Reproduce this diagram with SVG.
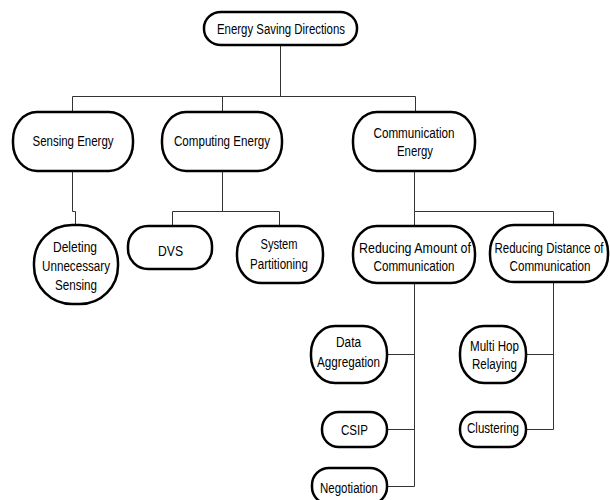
<svg xmlns="http://www.w3.org/2000/svg" width="610" height="500" viewBox="0 0 610 500">
<style>
.n{fill:#fff;stroke:#000;stroke-width:2.5}
.t{font-family:"Liberation Sans",Arial,sans-serif;font-size:14px;fill:#000;text-anchor:middle}
.c{fill:none;stroke:#333;stroke-width:1}
</style>
<rect width="610" height="500" fill="#fff"/>
<g id="connectors" class="c">
<path d="M280.5 45V96.5M72.5 96.5H415.5M72.5 96.5V112M222.5 96.5V112M415.5 96.5V112"/>
<path d="M72.5 171V211.5H75.5V225"/>
<path d="M222.5 171V211.5M172.5 211.5H279.5M172.5 211.5V226M279.5 211.5V226"/>
<path d="M414.5 171V211.5M414.5 211.5H553.5M553.5 211.5V225M414.5 211.5V226"/>
<path d="M414.5 283V486.5M387 354.5H414.5M387 429.5H414.5M387 486.5H414.5"/>
<path d="M553.5 282V429.5M526 354.5H553.5M526 429.5H553.5"/>
</g>
<g id="n-root"><rect class="n" x="204" y="12" width="153" height="33" rx="17" ry="16"/><text class="t" x="281" y="34" textLength="128" lengthAdjust="spacingAndGlyphs">Energy Saving Directions</text></g>
<g id="n-sensing"><rect class="n" x="13" y="112" width="120" height="59" rx="24" ry="28"/><text class="t" x="73" y="146" textLength="81" lengthAdjust="spacingAndGlyphs">Sensing Energy</text></g>
<g id="n-computing"><rect class="n" x="162" y="112" width="120" height="59" rx="24" ry="28"/><text class="t" x="222" y="146" textLength="96" lengthAdjust="spacingAndGlyphs">Computing Energy</text></g>
<g id="n-communication"><rect class="n" x="353" y="112" width="122" height="59" rx="24" ry="28"/><text class="t" x="414" y="138" textLength="81" lengthAdjust="spacingAndGlyphs">Communication</text><text class="t" x="415" y="156" textLength="36" lengthAdjust="spacingAndGlyphs">Energy</text></g>
<g id="n-deleting"><rect class="n" x="34" y="225" width="84" height="79" rx="38" ry="38"/><text class="t" x="75" y="252" textLength="44" lengthAdjust="spacingAndGlyphs">Deleting</text><text class="t" x="76" y="271" textLength="68" lengthAdjust="spacingAndGlyphs">Unnecessary</text><text class="t" x="76" y="290" textLength="42" lengthAdjust="spacingAndGlyphs">Sensing</text></g>
<g id="n-dvs"><rect class="n" x="128" y="226" width="84" height="43" rx="20" ry="20"/><text class="t" x="170.5" y="256" textLength="25" lengthAdjust="spacingAndGlyphs">DVS</text></g>
<g id="n-partitioning"><rect class="n" x="237" y="226" width="86" height="57" rx="24" ry="27"/><text class="t" x="279" y="249" textLength="37" lengthAdjust="spacingAndGlyphs">System</text><text class="t" x="279" y="269" textLength="58" lengthAdjust="spacingAndGlyphs">Partitioning</text></g>
<g id="n-amount"><rect class="n" x="353" y="226" width="122" height="57" rx="24" ry="27"/><text class="t" x="415" y="253" textLength="112" lengthAdjust="spacingAndGlyphs">Reducing Amount of</text><text class="t" x="414" y="271" textLength="81" lengthAdjust="spacingAndGlyphs">Communication</text></g>
<g id="n-distance"><rect class="n" x="490" y="225" width="118" height="57" rx="24" ry="27"/><text class="t" x="549" y="253" textLength="109" lengthAdjust="spacingAndGlyphs">Reducing Distance of</text><text class="t" x="550" y="271" textLength="81" lengthAdjust="spacingAndGlyphs">Communication</text></g>
<g id="n-aggregation"><rect class="n" x="311" y="326" width="76" height="57" rx="24" ry="27"/><text class="t" x="348.5" y="347" textLength="25" lengthAdjust="spacingAndGlyphs">Data</text><text class="t" x="348.5" y="367" textLength="63" lengthAdjust="spacingAndGlyphs">Aggregation</text></g>
<g id="n-csip"><rect class="n" x="322" y="412" width="65" height="35" rx="17" ry="17"/><text class="t" x="354.5" y="435" textLength="27" lengthAdjust="spacingAndGlyphs">CSIP</text></g>
<g id="n-negotiation"><rect class="n" x="312" y="468" width="75" height="36" rx="17" ry="17"/><text class="t" x="349" y="493" textLength="58" lengthAdjust="spacingAndGlyphs">Negotiation</text></g>
<g id="n-multihop"><rect class="n" x="460" y="326" width="66" height="57" rx="24" ry="27"/><text class="t" x="494.5" y="351" textLength="49" lengthAdjust="spacingAndGlyphs">Multi Hop</text><text class="t" x="494.5" y="369" textLength="45" lengthAdjust="spacingAndGlyphs">Relaying</text></g>
<g id="n-clustering"><rect class="n" x="460" y="412" width="66" height="35" rx="17" ry="17"/><text class="t" x="493" y="433" textLength="52" lengthAdjust="spacingAndGlyphs">Clustering</text></g>
</svg>
